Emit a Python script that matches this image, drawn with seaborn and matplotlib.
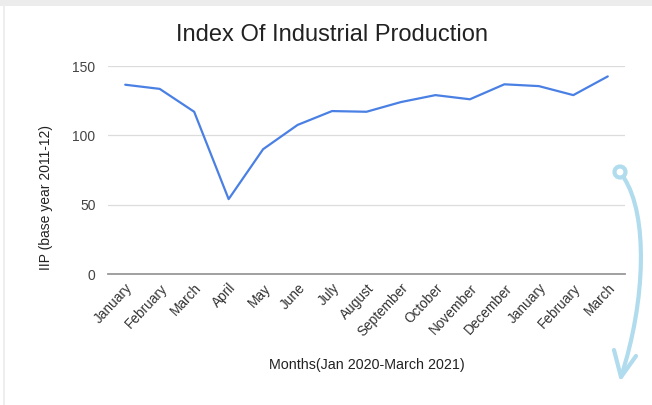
import matplotlib
matplotlib.use("Agg")
import matplotlib.pyplot as plt
import seaborn as sns
import pandas as pd
from matplotlib.patches import Ellipse, Rectangle, PathPatch
from matplotlib.path import Path

months = ["January", "February", "March", "April", "May", "June", "July", "August",
          "September", "October", "November", "December", "January", "February", "March"]
iip = [136.5, 133.5, 117.0, 54.0, 90.0, 107.5, 117.5, 117.0, 124.0, 129.0, 126.0,
       136.8, 135.5, 129.0, 142.5]
yticks = [0, 50, 100, 150]

sns.set_theme(style="white")
plt.rcParams['font.family'] = ['Liberation Sans', 'DejaVu Sans']

df = pd.DataFrame({"pos": range(len(months)), "IIP": iip})

W, H = 652, 405
fig = plt.figure(figsize=(W/100, H/100), dpi=100)
fig.patch.set_facecolor("white")
ax = fig.add_axes([108/W, 1-274/H, (625-108)/W, (274-66)/H])

sns.lineplot(data=df, x="pos", y="IIP", ax=ax, color="#4a80e4", linewidth=1.6)

ax.set_xlim(-0.5, len(months)-0.5)
ax.set_ylim(0, 150)
ax.set_yticks(yticks)
ax.set_yticklabels([str(t) for t in yticks], fontsize=10, color="#444444")
ax.set_xticks(range(len(months)))
ax.set_xticklabels(months, rotation=47, ha="right", rotation_mode="anchor",
                   fontsize=9.8, color="#333333")
ax.tick_params(axis="y", length=0, pad=9)
ax.tick_params(axis="x", length=0, pad=5)
for s in ["top", "right", "left"]:
    ax.spines[s].set_visible(False)
ax.spines["bottom"].set_color("#999999")
ax.spines["bottom"].set_linewidth(1.3)
ax.grid(axis="y", color="#dcdcdc", linewidth=0.9)
ax.set_axisbelow(True)
ax.set_ylabel("IIP (base year 2011-12)", fontsize=10, color="#222222")
ax.yaxis.set_label_coords((46-108)/(625-108), 0.37)
ax.set_xlabel("Months(Jan 2020-March 2021)", fontsize=10.3, color="#222222")
ax.xaxis.set_label_coords(0.5, -0.4375)
ax.xaxis.label.set_va("center")
ax.yaxis.label.set_va("center")

fig.text(332/W, 1-35/H, "Index Of Industrial Production", fontsize=17,
         color="#222222", ha="center", va="center")

# decorative frame hints
fig.add_artist(Rectangle((0, 1-6/H), 1, 6/H, transform=fig.transFigure,
                         facecolor="#ececec", edgecolor="none"))
fig.add_artist(Rectangle((3/W, 0), 2/W, 1-6/H, transform=fig.transFigure,
                         facecolor="#eeeeee", edgecolor="none"))

# decorative curved arrow (pixel coords -> figure fraction)
def fp(x, y):
    return (x/W, 1-y/H)

acol = "#b0dcee"
fig.add_artist(Ellipse(fp(620, 172), 11/W, 11/H, transform=fig.transFigure,
                       facecolor="none", edgecolor=acol, linewidth=3))
curve = Path([fp(624, 178), fp(648, 215), fp(646, 300), fp(621, 377)],
             [Path.MOVETO, Path.CURVE4, Path.CURVE4, Path.CURVE4])
fig.add_artist(PathPatch(curve, transform=fig.transFigure, facecolor="none",
                         edgecolor=acol, linewidth=3, capstyle="round"))
head = Path([fp(614, 350), fp(621, 377), fp(636, 356)],
            [Path.MOVETO, Path.LINETO, Path.LINETO])
fig.add_artist(PathPatch(head, transform=fig.transFigure, facecolor="none",
                         edgecolor=acol, linewidth=3, capstyle="round",
                         joinstyle="round"))

fig.savefig("out.png", dpi=100)
